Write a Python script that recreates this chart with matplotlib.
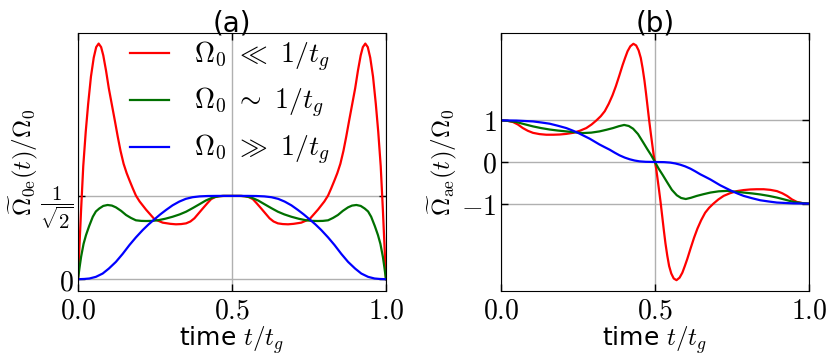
import matplotlib
matplotlib.use("Agg")
import matplotlib.pyplot as plt

# ---- data ----
# panel (a): |Omega_0e(t)| / Omega_0
t_red_a = [0, 0.005, 0.010, 0.017, 0.025, 0.033, 0.042, 0.051, 0.059, 0.067,
           0.075, 0.082, 0.091, 0.100, 0.110, 0.120, 0.129, 0.138, 0.148, 0.158,
           0.167, 0.178, 0.188, 0.200, 0.221, 0.248, 0.275, 0.300, 0.318, 0.335,
           0.351, 0.365, 0.378, 0.392, 0.405, 0.420, 0.432, 0.445, 0.459, 0.475,
           0.5,
           0.525, 0.541, 0.555, 0.568, 0.580, 0.595, 0.608, 0.622, 0.635, 0.649,
           0.665, 0.682, 0.700, 0.725, 0.752, 0.779, 0.800, 0.812, 0.822, 0.833,
           0.842, 0.852, 0.862, 0.871, 0.880, 0.890, 0.900, 0.909, 0.918, 0.925,
           0.933, 0.941, 0.949, 0.958, 0.967, 0.975, 0.983, 0.990, 0.995, 1.0]
red_a = [0, 0.30, 0.59, 0.96, 1.25, 1.49, 1.72, 1.88, 1.97, 2.00,
         1.97, 1.90, 1.77, 1.62, 1.48, 1.34, 1.21, 1.09, 0.98, 0.90,
         0.84, 0.77, 0.71, 0.66, 0.59, 0.51, 0.48, 0.47, 0.466, 0.468,
         0.474, 0.49, 0.517, 0.56, 0.60, 0.645, 0.679, 0.697, 0.705, 0.707,
         0.707,
         0.707, 0.705, 0.697, 0.679, 0.645, 0.60, 0.56, 0.517, 0.49, 0.474,
         0.468, 0.466, 0.47, 0.48, 0.51, 0.59, 0.66, 0.71, 0.77, 0.84,
         0.90, 0.98, 1.09, 1.21, 1.34, 1.48, 1.62, 1.77, 1.90, 1.97,
         2.00, 1.97, 1.88, 1.72, 1.49, 1.25, 0.96, 0.59, 0.30, 0]

t_green_a = [0, 0.005, 0.010, 0.018, 0.026, 0.036, 0.048, 0.058, 0.069, 0.082,
             0.096, 0.110, 0.123, 0.140, 0.156, 0.172, 0.188, 0.205, 0.221, 0.240,
             0.259, 0.283, 0.307, 0.330, 0.351, 0.372, 0.394, 0.415, 0.437, 0.455,
             0.470, 0.5,
             0.530, 0.545, 0.563, 0.585, 0.606, 0.628, 0.649, 0.670, 0.693, 0.717,
             0.741, 0.760, 0.779, 0.795, 0.812, 0.828, 0.844, 0.860, 0.877, 0.890,
             0.904, 0.918, 0.931, 0.942, 0.952, 0.964, 0.974, 0.982, 0.990, 0.995,
             1.0]
green_a = [0, 0.10, 0.19, 0.30, 0.375, 0.45, 0.53, 0.575, 0.60, 0.622,
           0.63, 0.625, 0.61, 0.58, 0.545, 0.52, 0.50, 0.495, 0.494, 0.495,
           0.50, 0.513, 0.53, 0.55, 0.573, 0.603, 0.636, 0.668, 0.693, 0.703,
           0.707, 0.707,
           0.707, 0.703, 0.693, 0.668, 0.636, 0.603, 0.573, 0.55, 0.53, 0.513,
           0.50, 0.495, 0.494, 0.495, 0.50, 0.52, 0.545, 0.58, 0.61, 0.625,
           0.63, 0.622, 0.60, 0.575, 0.53, 0.45, 0.375, 0.30, 0.19, 0.10,
           0]

t_blue_a = [0, 0.020, 0.037, 0.058, 0.080, 0.100, 0.123, 0.145, 0.167, 0.188,
            0.210, 0.229, 0.248, 0.267, 0.286, 0.307, 0.329, 0.350, 0.372, 0.395,
            0.420, 0.450, 0.5,
            0.550, 0.580, 0.605, 0.628, 0.650, 0.671, 0.693, 0.714, 0.733, 0.752,
            0.771, 0.790, 0.812, 0.833, 0.855, 0.877, 0.900, 0.920, 0.942, 0.963,
            0.980, 1.0]
blue_a = [0, 0.002, 0.006, 0.02, 0.048, 0.09, 0.147, 0.215, 0.29, 0.355,
          0.417, 0.465, 0.508, 0.55, 0.588, 0.627, 0.659, 0.682, 0.696, 0.703,
          0.706, 0.707, 0.707,
          0.707, 0.706, 0.703, 0.696, 0.682, 0.659, 0.627, 0.588, 0.55, 0.508,
          0.465, 0.417, 0.355, 0.29, 0.215, 0.147, 0.09, 0.048, 0.02, 0.006,
          0.002, 0]

# panel (b): Omega_ae(t) / Omega_0
t_red_b = [0, 0.020, 0.039, 0.055, 0.071, 0.087, 0.104, 0.125, 0.147, 0.170,
           0.190, 0.212, 0.234, 0.256, 0.277, 0.294, 0.310, 0.324, 0.337, 0.350,
           0.362, 0.373, 0.384, 0.395, 0.403, 0.411, 0.420, 0.430, 0.439, 0.447,
           0.454, 0.460, 0.466, 0.471, 0.476, 0.4815, 0.487, 0.492, 0.496, 0.5,
           0.504, 0.508, 0.513, 0.5185, 0.524, 0.529, 0.534, 0.540, 0.546, 0.553,
           0.561, 0.570, 0.580, 0.589, 0.597, 0.605, 0.616, 0.627, 0.638, 0.650,
           0.663, 0.676, 0.690, 0.706, 0.723, 0.744, 0.766, 0.788, 0.810, 0.830,
           0.853, 0.875, 0.896, 0.913, 0.929, 0.945, 0.961, 0.980, 1.0]
red_b = [1.0, 0.99, 0.96, 0.90, 0.815, 0.75, 0.70, 0.67, 0.655, 0.655,
         0.66, 0.675, 0.70, 0.75, 0.815, 0.90, 1.0, 1.10, 1.22, 1.40,
         1.60, 1.82, 2.07, 2.33, 2.50, 2.66, 2.78, 2.84, 2.80, 2.68,
         2.50, 2.25, 1.95, 1.65, 1.33, 0.98, 0.66, 0.38, 0.16, 0,
         -0.16, -0.38, -0.66, -0.98, -1.33, -1.65, -1.95, -2.25, -2.50, -2.68,
         -2.80, -2.84, -2.78, -2.66, -2.50, -2.33, -2.07, -1.82, -1.60, -1.40,
         -1.22, -1.10, -1.0, -0.90, -0.815, -0.75, -0.70, -0.675, -0.66, -0.655,
         -0.655, -0.67, -0.70, -0.75, -0.815, -0.90, -0.96, -0.99, -1.0]

t_green_b = [0, 0.020, 0.050, 0.075, 0.104, 0.130, 0.158, 0.185, 0.212, 0.240,
             0.266, 0.293, 0.320, 0.343, 0.364, 0.383, 0.400, 0.415, 0.429, 0.445,
             0.461, 0.475, 0.488, 0.5,
             0.512, 0.525, 0.539, 0.555, 0.571, 0.585, 0.600, 0.617, 0.636, 0.657,
             0.680, 0.707, 0.734, 0.760, 0.788, 0.815, 0.842, 0.870, 0.896, 0.925,
             0.950, 0.980, 1.0]
green_b = [1.0, 0.99, 0.96, 0.91, 0.855, 0.815, 0.78, 0.755, 0.735, 0.713,
           0.695, 0.705, 0.735, 0.775, 0.815, 0.86, 0.89, 0.865, 0.80, 0.67,
           0.48, 0.31, 0.16, 0,
           -0.16, -0.31, -0.48, -0.67, -0.80, -0.865, -0.89, -0.86, -0.815, -0.775,
           -0.735, -0.705, -0.695, -0.713, -0.735, -0.755, -0.78, -0.815, -0.855, -0.91,
           -0.96, -0.99, -1.0]

t_blue_b = [0, 0.050, 0.104, 0.130, 0.158, 0.185, 0.212, 0.231, 0.250, 0.269,
            0.288, 0.304, 0.320, 0.337, 0.353, 0.369, 0.385, 0.402, 0.418, 0.434,
            0.450, 0.470, 0.5,
            0.530, 0.550, 0.566, 0.582, 0.598, 0.615, 0.631, 0.647, 0.663, 0.680,
            0.696, 0.712, 0.731, 0.750, 0.769, 0.788, 0.815, 0.842, 0.870, 0.896,
            0.950, 1.0]
blue_b = [1.0, 0.995, 0.975, 0.95, 0.92, 0.87, 0.815, 0.76, 0.70, 0.63,
          0.56, 0.49, 0.42, 0.355, 0.295, 0.225, 0.16, 0.105, 0.065, 0.035,
          0.015, 0.004, 0,
          -0.004, -0.015, -0.035, -0.065, -0.105, -0.16, -0.225, -0.295, -0.355, -0.42,
          -0.49, -0.56, -0.63, -0.70, -0.76, -0.815, -0.87, -0.92, -0.95, -0.975,
          -0.995, -1.0]

legend_labels = [r'$\Omega_0\ \ll\ 1/t_g$', r'$\Omega_0\ \sim\ 1/t_g$',
                 r'$\Omega_0\ \gg\ 1/t_g$']
x_ticks = [0.0, 0.5, 1.0]
x_ticklabels = ['$0.0$', '$0.5$', '$1.0$']
a_yticks = [0, 0.7071]
a_yticklabels = ['$0$', r'$\dfrac{1}{\sqrt{2}}$']
b_yticks = [-1, 0, 1]
b_yticklabels = ['$-1$', '$0$', '$1$']


def style_axes(ax, yticks, yticklabels):
    ax.set_xlim(0, 1)
    ax.set_xticks(x_ticks)
    ax.set_xticklabels(x_ticklabels, fontsize=20)
    ax.set_yticks(yticks)
    ax.set_yticklabels(yticklabels, fontsize=20)
    ax.tick_params(direction='in', top=True, right=True, length=5, width=1)
    ax.tick_params(axis='x', pad=4)
    ax.tick_params(axis='y', pad=3)
    ax.grid(True, color='#b0b0b0', lw=1)
    ax.set_axisbelow(True)
    ax.set_xlabel(r'time $t/t_g$', fontsize=18, labelpad=0)


def main():
    plt.rcParams['mathtext.fontset'] = 'cm'
    plt.rcParams['font.family'] = 'DejaVu Sans'

    fig = plt.figure(figsize=(8.3, 3.6), dpi=100)
    ax1 = fig.add_axes([0.094, 0.1917, 0.371, 0.7167])
    ax2 = fig.add_axes([0.6036, 0.1917, 0.371, 0.7167])

    ax1.plot(t_red_a, red_a, color='#ff0000', lw=1.6, label=legend_labels[0])
    ax1.plot(t_green_a, green_a, color='#007000', lw=1.6, label=legend_labels[1])
    ax1.plot(t_blue_a, blue_a, color='#0000ff', lw=1.6, label=legend_labels[2])
    style_axes(ax1, a_yticks, a_yticklabels)
    # the 1/sqrt(2) label is a display fraction, drawn a little smaller
    ax1.get_yticklabels()[1].set_fontsize(15)
    ax1.set_ylim(-0.1, 2.09)
    ax1.set_title('(a)', fontsize=20, pad=1)
    ax1.set_ylabel(r'$\widetilde{\Omega}_{0\mathrm{e}}(t)/\Omega_0$',
                   fontsize=18, labelpad=0)
    ax1.legend(loc='upper left', bbox_to_anchor=(0.17, 0.975), frameon=False,
               fontsize=20, handlelength=1.4, handletextpad=0.9,
               labelspacing=0.45, borderpad=0, borderaxespad=0)

    ax2.plot(t_red_b, red_b, color='#ff0000', lw=1.6)
    ax2.plot(t_green_b, green_b, color='#007000', lw=1.6)
    ax2.plot(t_blue_b, blue_b, color='#0000ff', lw=1.6)
    style_axes(ax2, b_yticks, b_yticklabels)
    ax2.set_ylim(-3.1, 3.1)
    ax2.set_title('(b)', fontsize=20, pad=1)
    ax2.set_ylabel(r'$\widetilde{\Omega}_{\mathrm{ae}}(t)/\Omega_0$',
                   fontsize=18, labelpad=2)

    fig.savefig('out.png', dpi=100)


if __name__ == "__main__":
    main()
